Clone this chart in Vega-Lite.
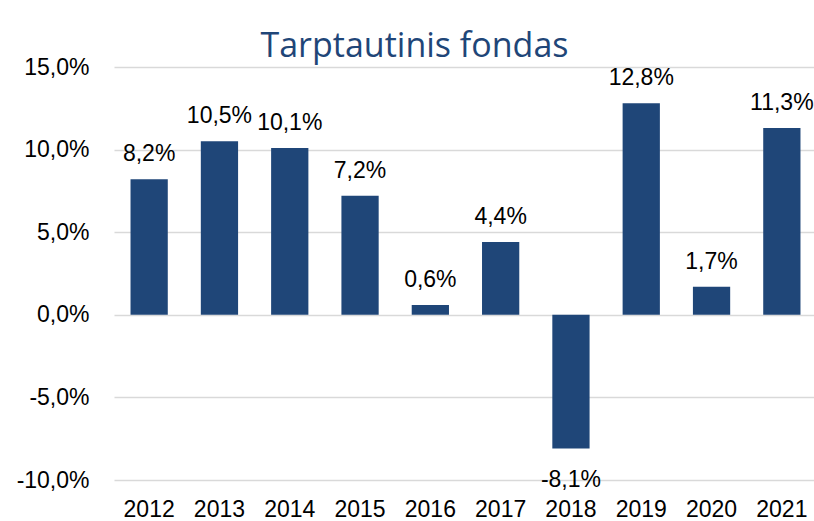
{
  "$schema": "https://vega.github.io/schema/vega-lite/v6.json",
  "width": 703,
  "height": 413,
  "autosize": "none",
  "padding": {"left": 114, "top": 67, "right": 0, "bottom": 41},
  "config": {
    "locale": {"number": {"decimal": ",", "thousands": ".", "grouping": [3], "currency": ["", "€"], "minus": "-"}},
    "view": {"stroke": null},
    "font": "Liberation Sans"
  },
  "title": {
    "text": "Tarptautinis fondas",
    "color": "#1f4678",
    "fontSize": 34,
    "font": "Open Sans",
    "fontWeight": "normal",
    "anchor": "middle",
    "baseline": "alphabetic",
    "dx": -51,
    "offset": -35
  },
  "data": {
    "values": [
      {"year": "2012", "value": 0.082},
      {"year": "2013", "value": 0.105},
      {"year": "2014", "value": 0.101},
      {"year": "2015", "value": 0.072},
      {"year": "2016", "value": 0.006},
      {"year": "2017", "value": 0.044},
      {"year": "2018", "value": -0.081},
      {"year": "2019", "value": 0.128},
      {"year": "2020", "value": 0.017},
      {"year": "2021", "value": 0.113}
    ]
  },
  "encoding": {
    "x": {
      "field": "year",
      "type": "ordinal",
      "scale": {"paddingInner": 0.47, "paddingOuter": 0.235},
      "axis": {
        "title": null,
        "labelAngle": 0,
        "labelFontSize": 23,
        "labelColor": "#000000",
        "labelPadding": 18,
        "domain": false,
        "ticks": false,
        "grid": false
      }
    },
    "y": {
      "field": "value",
      "type": "quantitative",
      "scale": {"domain": [-0.1, 0.15], "nice": false, "zero": true},
      "axis": {
        "title": null,
        "values": [-0.1, -0.05, 0, 0.05, 0.1, 0.15],
        "format": ".1%",
        "labelFontSize": 23,
        "labelColor": "#000000",
        "labelPadding": 25,
        "domain": false,
        "ticks": false,
        "grid": true,
        "gridColor": "#d9d9d9",
        "gridWidth": 1.5
      }
    }
  },
  "layer": [
    {"mark": {"type": "bar", "color": "#1f4678"}},
    {
      "transform": [{"filter": "datum.value >= 0"}],
      "mark": {"type": "text", "fontSize": 23, "baseline": "alphabetic", "dy": -18, "color": "#000000"},
      "encoding": {"text": {"field": "value", "type": "quantitative", "format": ".1%"}}
    },
    {
      "transform": [{"filter": "datum.value < 0"}],
      "mark": {"type": "text", "fontSize": 23, "baseline": "alphabetic", "dy": 38, "color": "#000000"},
      "encoding": {"text": {"field": "value", "type": "quantitative", "format": ".1%"}}
    }
  ]
}
